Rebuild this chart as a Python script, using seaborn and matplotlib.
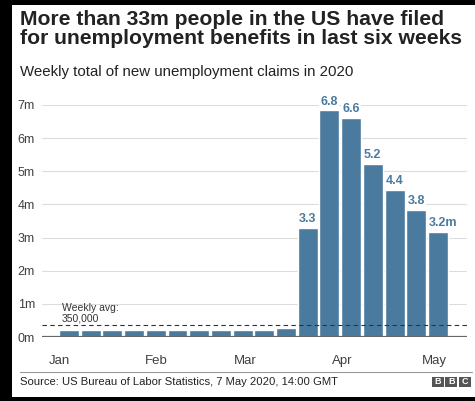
import matplotlib.pyplot as plt
import seaborn as sns
import pandas as pd
from matplotlib.patches import Rectangle

# weekly initial claims, millions (week ending)
weeks = ['2020-01-04', '2020-01-11', '2020-01-18', '2020-01-25', '2020-02-01',
         '2020-02-08', '2020-02-15', '2020-02-22', '2020-02-29', '2020-03-07',
         '2020-03-14', '2020-03-21', '2020-03-28', '2020-04-04', '2020-04-11',
         '2020-04-18', '2020-04-25', '2020-05-02']
claims = [0.21, 0.21, 0.22, 0.21, 0.20, 0.21, 0.21, 0.22, 0.22, 0.21,
          0.28, 3.30, 6.84, 6.60, 5.22, 4.43, 3.83, 3.17]
value_labels = ['', '', '', '', '', '', '', '', '', '', '',
                '3.3', '6.8', '6.6', '5.2', '4.4', '3.8', '3.2']
months = ['Jan', 'Feb', 'Mar', 'Apr', 'May']
month_starts = ['2020-01-01', '2020-02-01', '2020-03-01', '2020-04-01', '2020-05-01']
weekly_avg = 0.35

blue = '#4a7b9f'
W, H = 475, 401

sns.set_theme(style='white')
plt.rcParams['font.family'] = ['Liberation Sans', 'DejaVu Sans']

fig = plt.figure(figsize=(W / 100, H / 100), dpi=100)
ax = fig.add_axes([42 / W, 1 - 337 / H, 425 / W, 232 / H])

df = pd.DataFrame({'week': weeks, 'claims': claims})
sns.barplot(data=df, x='week', y='claims', color=blue, saturation=1,
            width=0.92, ax=ax, zorder=2)

ax.set_xlim(-1.244, 18.34)
ax.set_ylim(0, 7)
ax.set_yticks(range(8))
ax.set_yticklabels([f'{i}m' for i in range(8)])
ax.yaxis.grid(True, color='#dddddd', lw=0.8)
ax.set_axisbelow(True)
for s in ax.spines.values():
    s.set_visible(False)
ax.axhline(0, color='#666666', lw=1.6, zorder=3)

# month labels on a date scale
first = pd.Timestamp(weeks[0])
month_pos = [(pd.Timestamp(m) - first).days / 7 for m in month_starts]
ax.set_xticks(month_pos, months)
ax.set_xlabel('')
ax.set_ylabel('')
ax.tick_params(axis='y', length=0, pad=5, labelsize=9, colors='#404040')
ax.tick_params(axis='x', length=0, pad=13, labelsize=9.5, colors='#404040')

# value labels (last one gets the unit, number kept centred on the bar)
box = dict(boxstyle='square,pad=0.1', fc='white', ec='none')
n = len(claims)
for i, (v, lab) in enumerate(zip(claims, value_labels)):
    if lab:
        txt, dx = lab, 0
        if i == n - 1:
            txt, dx = lab + 'm', 4
        ax.annotate(txt, (i, v), xytext=(dx, 2), textcoords='offset points',
                    ha='center', va='bottom', fontsize=9, fontweight='bold',
                    color=blue, bbox=box, zorder=5)

# weekly average
ax.axhline(weekly_avg, color='#333333', lw=0.8, ls=(0, (4, 3)), zorder=4)
ax.annotate('Weekly avg:\n350,000', (-0.32, weekly_avg), xytext=(0, 1.5),
            textcoords='offset points', ha='left', va='bottom', fontsize=7.5,
            color='#333333', linespacing=1.0)

# titles
fig.text(20 / W, 1 - 10 / H, 'More than 33m people in the US have filed\nfor unemployment benefits in last six weeks',
         ha='left', va='top', fontsize=15.2, fontweight='bold', color='#222222', linespacing=0.98)
fig.text(20 / W, 1 - 72 / H, 'Weekly total of new unemployment claims in 2020',
         ha='left', va='center', fontsize=10.8, color='#222222')

# footer
fig.add_artist(plt.Line2D([20 / W, 472 / W], [1 - 372 / H] * 2, color='#999999', lw=0.8))
fig.text(20 / W, 1 - 382 / H, 'Source: US Bureau of Labor Statistics, 7 May 2020, 14:00 GMT',
         ha='left', va='center', fontsize=8.1, color='#222222')
for k, letter in enumerate('BBC'):
    x0 = 432 + k * 13.3
    fig.add_artist(Rectangle((x0 / W, 1 - 387 / H), 12 / W, 10 / H,
                             transform=fig.transFigure, fc='#555555', ec='none'))
    fig.text((x0 + 6) / W, 1 - 382 / H, letter, ha='center', va='center',
             fontsize=6.5, fontweight='bold', color='white')

# black frame
fig.add_artist(Rectangle((0, 0), 12 / W, 1, transform=fig.transFigure, fc='black', ec='none'))
fig.add_artist(Rectangle((0, 1 - 5 / H), 1, 5 / H, transform=fig.transFigure, fc='black', ec='none'))
fig.add_artist(Rectangle((0, 0), 1, 4 / H, transform=fig.transFigure, fc='black', ec='none'))

fig.savefig('out.png', dpi=100)
